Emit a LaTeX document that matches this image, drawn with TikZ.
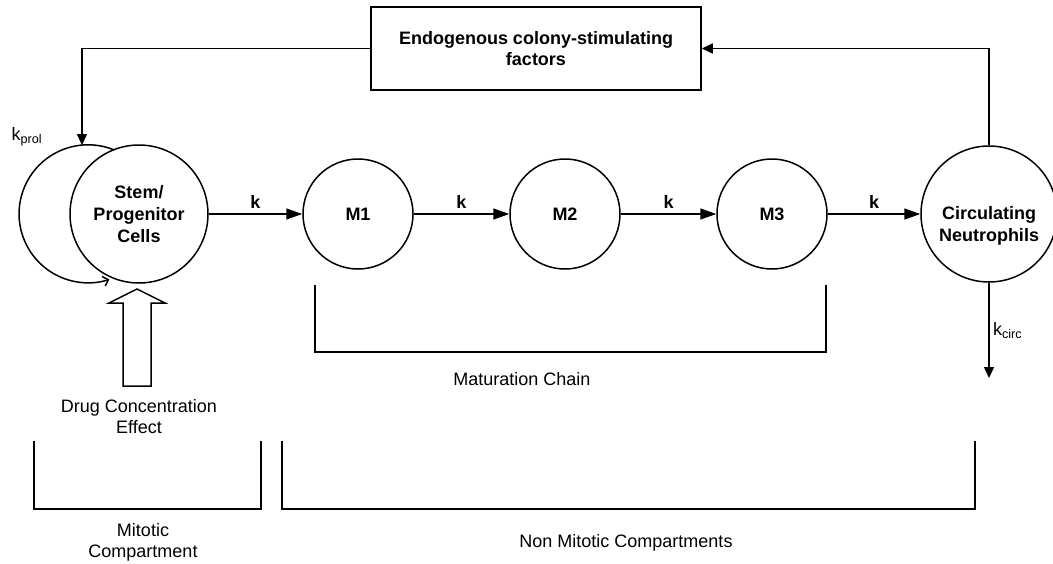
\documentclass[tikz,border=0pt]{standalone}
\usepackage{fontspec}
\setmainfont{Liberation Sans}
\usetikzlibrary{arrows.meta}

\tikzset{
  comp/.style={circle, draw, line width=1.5pt, inner sep=0pt, minimum size=110pt, align=center, font=\fontsize{18}{22}\selectfont\bfseries},
  flow/.style={line width=1.5pt, -{Triangle[length=16pt,width=11pt]}},
  feed/.style={line width=1.5pt, -{Triangle[length=11pt,width=10pt]}},
  rate/.style={font=\fontsize{18}{22}\selectfont\bfseries, inner sep=5pt},
  bracket/.style={line width=1.5pt},
  caption/.style={align=center, font=\fontsize{18}{21}\selectfont}
}

\begin{document}
\begin{tikzpicture}[x=1pt, y=1pt, font=\fontsize{18}{21}\selectfont]
	\useasboundingbox (0,0) rectangle (1053,-563);
	% compartments
	\node[comp, minimum size=138pt] (stem) at (139,-214) {Stem/\\Progenitor\\Cells};
	\node[circle, inner sep=0pt, minimum size=138pt] (ghost) at (88,-214) {};
	\node[comp] (m1) at (358,-214) {M1};
	\node[comp] (m2) at (565,-214) {M2};
	\node[comp] (m3) at (772,-214) {M3};
	\node[comp, minimum size=136pt] (circ) at (989,-214) {\strut\\Circulating\\Neutrophils};
	\node[draw, line width=1.5pt, minimum width=330pt, minimum height=83pt, align=center, font=\fontsize{18}{21}\selectfont\bfseries] (csf) at (536,-48.5) {Endogenous colony-stimulating\\factors};
	\coordinate (kcirc) at (989,-378);
	% transit
	\draw[flow] (stem) edge node[rate, above]{k} (m1);
	\draw[flow] (m1) edge node[rate, above]{k} (m2);
	\draw[flow] (m2) edge node[rate, above]{k} (m3);
	\draw[flow] (m3) edge node[rate, above]{k} (circ);
	% feedback and elimination
	\draw[feed] (csf.west) -| (ghost.95);
	\draw[feed] (circ.north) |- (csf.east);
	\draw[feed] (circ.south) -- node[right]{k\textsubscript{circ}} (kcirc);
	% proliferation loop
	\draw[line width=1.5pt, -{Straight Barb[length=5pt,width=10pt]}] (ghost.68) arc[start angle=68, end angle=288, radius=69pt];
	\node (kprol) at (27,-137) {k\textsubscript{prol}};
	% drug effect
	\draw[bracket] (123,-386) -- (123,-303) -- (109,-303) -- (137,-289) -- (165,-303) -- (151,-303) -- (151,-386) -- cycle;
	\node[caption] (drug) at (139,-417) {Drug Concentration\\Effect};
	% brackets
	\draw[bracket] (315,-285) |- (826,-352) -- (826,-285);
	\node[caption] (matlabel) at (522,-379) {Maturation Chain};
	\draw[bracket] (34,-441) |- (261,-509) -- (261,-441);
	\node[caption] (mitlabel) at (143,-542) {Mitotic\\Compartment};
	\draw[bracket] (282,-441) |- (975,-509) -- (975,-441);
	\node[caption] (nonmitlabel) at (626,-543) {Non Mitotic Compartments};
\end{tikzpicture}
\end{document}
